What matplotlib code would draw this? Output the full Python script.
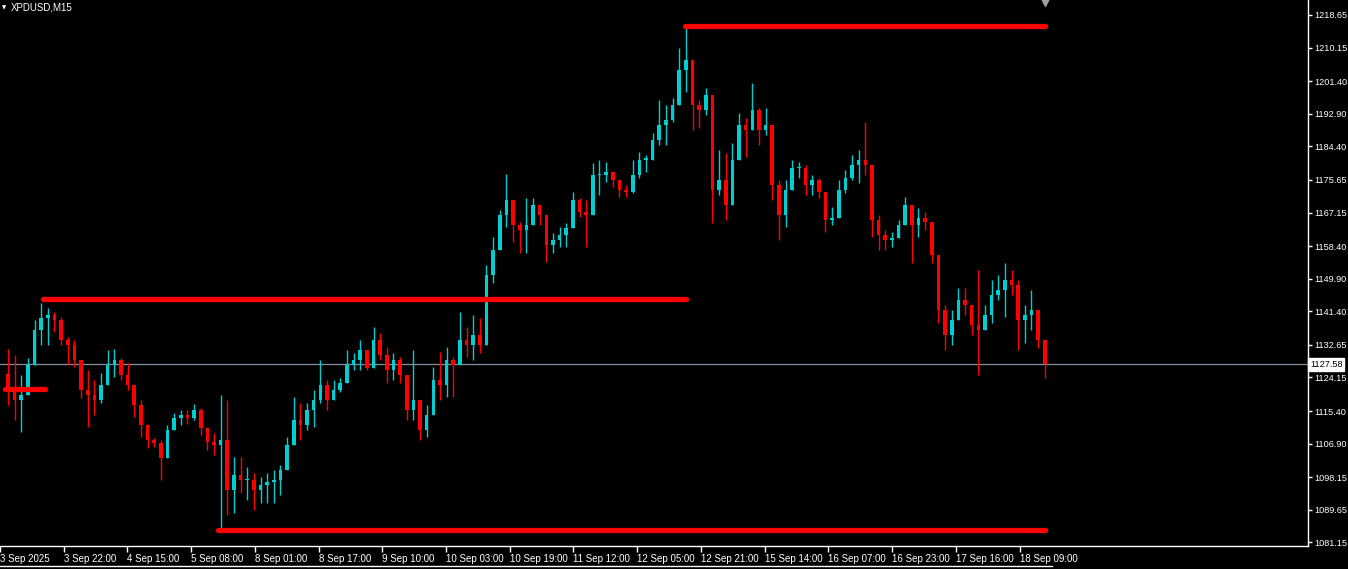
import numpy as np
import matplotlib
matplotlib.use('Agg')
import matplotlib.pyplot as plt
from matplotlib.lines import Line2D
import matplotlib.transforms as mtransforms

symbol = 'XPDUSD,M15'

# coarse candles (each one spans roughly 6-7 M15 bars)
highs = [1131.6, 1130.0, 1124.8, 1129.2, 1139.1, 1143.6, 1142.3, 1141.2, 1139.9, 1134.7,
         1133.9, 1127.9, 1126.1, 1123.5, 1125.3, 1131.3, 1131.6, 1129.2, 1127.9, 1120.4,
         1118.3, 1110.5, 1108.4, 1107.9, 1111.8, 1114.9, 1115.7, 1115.7, 1117.2, 1116.2,
         1111.2, 1109.7, 1119.6, 1118.3, 1103.4, 1103.4, 1100.8, 1099.3, 1098.2, 1099.3,
         1100.0, 1101.3, 1108.6, 1119.1, 1117.5, 1117.5, 1120.9, 1128.7, 1123.5, 1123.5,
         1124.0, 1131.3, 1130.5, 1133.9, 1130.5, 1137.3, 1135.8, 1132.1, 1130.5, 1129.5,
         1122.7, 1131.3, 1116.5, 1117.0, 1126.9, 1130.8, 1132.1, 1129.5, 1141.2, 1137.3,
         1140.4, 1139.7, 1153.5, 1160.8, 1167.8, 1177.2, 1167.8, 1164.7, 1170.9, 1170.9,
         1168.6, 1163.9, 1161.8, 1163.4, 1164.4, 1172.5, 1170.9, 1170.4, 1180.1, 1180.9,
         1180.3, 1177.7, 1175.6, 1174.3, 1180.9, 1182.9, 1182.2, 1187.9, 1196.5, 1195.2,
         1197.0, 1210.1, 1215.3, 1203.0, 1196.5, 1199.6, 1190.5, 1183.5, 1182.7, 1185.3,
         1193.1, 1191.8, 1200.9, 1194.4, 1194.4, 1190.0, 1175.6, 1175.6, 1180.9, 1180.3,
         1179.5, 1176.9, 1176.2, 1171.7, 1168.6, 1175.6, 1178.2, 1182.2, 1183.5, 1190.8,
         1175.6, 1166.5, 1162.6, 1162.1, 1165.2, 1171.2, 1169.1, 1168.3, 1167.3, 1164.4,
         1154.8, 1143.1, 1141.7, 1147.5, 1147.5, 1143.1, 1152.2, 1143.1, 1149.6, 1150.9,
         1154.0, 1152.2, 1149.6, 1143.1, 1147.0, 1138.6, 1133.1]
lows = [1117.0, 1113.1, 1109.9, 1119.6, 1128.7, 1132.6, 1132.6, 1136.0, 1132.6, 1127.4,
        1126.9, 1118.8, 1111.2, 1114.4, 1117.5, 1123.5, 1124.3, 1123.5, 1120.9, 1113.9,
        1108.6, 1105.8, 1106.0, 1097.4, 1103.4, 1110.5, 1111.8, 1112.0, 1113.1, 1109.2,
        1105.2, 1103.9, 1084.9, 1088.3, 1088.8, 1094.0, 1092.2, 1089.6, 1091.4, 1091.4,
        1091.4, 1093.5, 1100.0, 1107.9, 1107.9, 1110.5, 1111.2, 1117.5, 1115.7, 1118.3,
        1120.4, 1124.3, 1126.1, 1126.1, 1126.1, 1128.7, 1128.7, 1122.7, 1123.5, 1122.7,
        1113.1, 1113.1, 1107.9, 1108.6, 1119.6, 1118.3, 1119.1, 1119.1, 1131.3, 1129.5,
        1128.7, 1130.5, 1138.4, 1148.8, 1159.2, 1163.4, 1159.5, 1156.6, 1156.6, 1164.7,
        1163.9, 1154.3, 1156.6, 1158.2, 1158.2, 1163.4, 1166.0, 1158.2, 1168.6, 1171.7,
        1175.1, 1173.8, 1171.2, 1171.2, 1172.2, 1176.2, 1177.7, 1182.2, 1184.8, 1184.8,
        1190.8, 1197.3, 1198.6, 1188.7, 1189.2, 1192.6, 1164.4, 1171.7, 1165.2, 1171.7,
        1183.5, 1181.6, 1188.7, 1184.8, 1187.4, 1170.4, 1160.0, 1163.4, 1173.0, 1176.2,
        1171.7, 1171.7, 1170.9, 1162.1, 1163.9, 1166.0, 1172.2, 1175.6, 1174.9, 1176.9,
        1160.8, 1157.4, 1157.4, 1158.2, 1161.3, 1164.7, 1154.0, 1160.8, 1162.6, 1154.0,
        1138.4, 1131.3, 1132.6, 1139.7, 1140.4, 1135.2, 1124.8, 1136.5, 1138.4, 1144.4,
        1139.9, 1145.7, 1131.3, 1133.1, 1136.5, 1131.8, 1124.0]
closes = [1120.9, 1118.3, 1119.6, 1127.4, 1136.5, 1139.7, 1140.4, 1139.1, 1133.9, 1132.6,
          1128.7, 1120.9, 1119.6, 1118.3, 1122.2, 1127.4, 1128.7, 1124.8, 1122.2, 1117.0,
          1111.8, 1107.9, 1107.1, 1103.2, 1110.5, 1113.6, 1114.4, 1113.6, 1115.7, 1111.0,
          1107.3, 1106.6, 1107.9, 1094.8, 1098.7, 1097.4, 1097.4, 1094.8, 1096.1, 1096.9,
          1097.4, 1100.0, 1106.6, 1113.1, 1111.8, 1115.7, 1118.3, 1122.2, 1118.3, 1120.9,
          1122.7, 1127.4, 1128.7, 1131.3, 1126.6, 1133.9, 1130.0, 1126.1, 1128.7, 1124.8,
          1115.7, 1118.3, 1110.5, 1114.4, 1123.5, 1122.2, 1128.7, 1127.4, 1133.9, 1132.6,
          1135.2, 1132.6, 1150.9, 1157.4, 1166.5, 1170.4, 1163.9, 1162.6, 1163.9, 1169.1,
          1166.5, 1158.7, 1160.0, 1161.3, 1163.1, 1170.4, 1167.3, 1166.5, 1176.9, 1176.9,
          1177.7, 1175.6, 1173.0, 1172.5, 1176.9, 1180.9, 1180.9, 1186.1, 1190.0, 1191.3,
          1195.2, 1204.3, 1206.9, 1195.2, 1193.9, 1197.8, 1173.0, 1175.6, 1169.1, 1180.9,
          1190.0, 1188.7, 1193.9, 1188.7, 1190.0, 1174.3, 1166.5, 1173.0, 1178.8, 1178.8,
          1174.3, 1175.6, 1172.5, 1165.2, 1165.7, 1173.0, 1176.2, 1179.5, 1180.9, 1179.5,
          1165.2, 1161.3, 1160.0, 1160.5, 1163.9, 1169.1, 1163.9, 1165.7, 1164.7, 1156.1,
          1141.7, 1135.2, 1139.1, 1144.4, 1143.1, 1137.8, 1136.5, 1140.4, 1145.7, 1147.0,
          1149.6, 1148.3, 1139.1, 1140.4, 1141.7, 1133.9, 1127.58]
first_open = 1125.0

# support / resistance levels: price, first bar, last bar
level_prices = [1144.61, 1215.78, 1084.40, 1121.15]
level_start = [38, 683, 214, 0]
level_end = [684, 1044, 1044, 40]

last_price = 1127.58

price_ticks = [1218.65, 1210.15, 1201.40, 1192.90, 1184.40, 1175.65, 1167.15, 1158.40,
               1149.90, 1141.40, 1132.65, 1124.15, 1115.40, 1106.90, 1098.15, 1089.65, 1081.15]
time_labels = ['3 Sep 2025', '3 Sep 22:00', '4 Sep 15:00', '5 Sep 08:00', '8 Sep 01:00',
               '8 Sep 17:00', '9 Sep 10:00', '10 Sep 03:00', '10 Sep 19:00', '11 Sep 12:00',
               '12 Sep 05:00', '12 Sep 21:00', '15 Sep 14:00', '16 Sep 07:00', '16 Sep 23:00',
               '17 Sep 16:00', '18 Sep 09:00']

FONT = 'Liberation Sans'
BULL = '#00CED1'
BEAR = '#FF0000'

W, H = 1348, 569
fig = plt.figure(figsize=(W / 100, H / 100), dpi=100)
fig.patch.set_facecolor('black')
ax = fig.add_axes([0, 23 / H, 1308 / W, 546 / H])
ax.set_facecolor('black')
ax.set_xlim(0, 1308)
ax.set_ylim(1080.22, 1222.56)

# candles
opens = [first_open] + closes[:-1]
n = len(closes)
xs = 3.3 + 6.67 * np.arange(n)
o = np.array(opens)
c = np.array(closes)
hi = np.maximum(np.array(highs), np.maximum(o, c))
lo = np.minimum(np.array(lows), np.minimum(o, c))
cols = [BULL if cc >= oo else BEAR for oo, cc in zip(o, c)]

ax.vlines(xs, lo, hi, colors=cols, linewidth=1.0, zorder=2)
body_h = np.maximum(np.abs(c - o), 0.35)
ax.bar(xs, body_h, bottom=np.minimum(o, c), width=3.6, color=cols, linewidth=0, zorder=3)

# current price line
ax.axhline(last_price, color='#8090A0', linewidth=0.9, zorder=1)

# levels
for p, s, e in zip(level_prices, level_start, level_end):
    ax.plot([s, e], [p, p], color=BEAR, linewidth=3.8, solid_capstyle='round', zorder=4)

# spines
for side in ['top', 'left']:
    ax.spines[side].set_visible(False)
for side in ['right', 'bottom']:
    ax.spines[side].set_color('white')
    ax.spines[side].set_linewidth(1.0)

# price axis
ax.yaxis.tick_right()
ax.set_yticks(price_ticks)
ax.set_yticklabels([f'{p:.2f}' for p in price_ticks], fontfamily=FONT)
ax.tick_params(axis='y', colors='white', length=3, width=1, pad=1.5, labelsize=6.6)

# time axis
tick_pos = [-4.7 + 63.95 * k for k in range(len(time_labels))]
ax.set_xticks(tick_pos)
ax.set_xticklabels(time_labels, fontfamily=FONT, ha='left')
ax.tick_params(axis='x', colors='white', length=4, width=1, pad=2, labelsize=7)

# last price tag
trans = mtransforms.blended_transform_factory(ax.transAxes, ax.transData)
ax.text(1.0 + 2 / 1308, last_price, f'{last_price:.2f}', transform=trans, ha='left', va='center',
        color='black', fontsize=6.6, fontfamily=FONT,
        bbox=dict(boxstyle='square,pad=0.2', facecolor='white', edgecolor='white'),
        zorder=6, clip_on=False)

# shift marker
ax.plot([1044], [1222.0], marker='v', color='#A0A0A0', markersize=6, clip_on=False, zorder=5)

# symbol header
fig.text(4 / W, 1 - 8 / H, '\u25BC', color='white', fontsize=4, va='center', ha='center')
fig.text(11 / W, 1 - 8 / H, symbol, color='white', fontsize=7, fontfamily=FONT, va='center')

# window border under the time axis
fig.add_artist(Line2D([0, 1052 / W], [1 - 566 / H, 1 - 566 / H], color='white', linewidth=1))

plt.savefig('out.png', dpi=100, facecolor='black')
